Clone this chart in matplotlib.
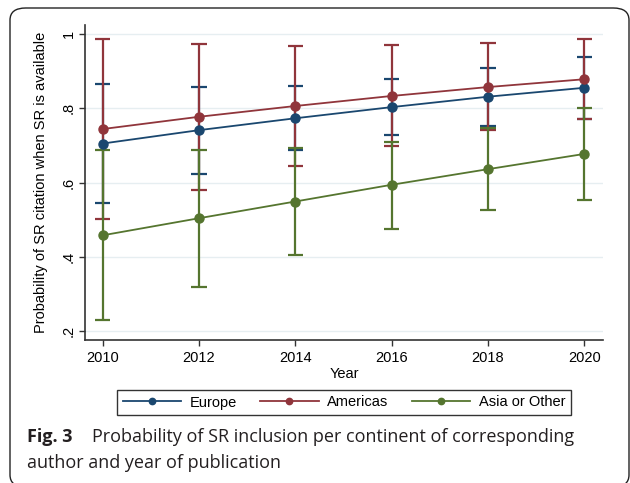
import matplotlib
matplotlib.use('Agg')
from matplotlib import pyplot as plt
from matplotlib.patches import FancyBboxPatch

years = [2010, 2012, 2014, 2016, 2018, 2020]

europe = [0.705, 0.741, 0.773, 0.803, 0.831, 0.855]
europe_lo = [0.545, 0.623, 0.688, 0.729, 0.753, 0.770]
europe_hi = [0.865, 0.857, 0.861, 0.879, 0.908, 0.939]

americas = [0.744, 0.777, 0.806, 0.833, 0.857, 0.878]
americas_lo = [0.502, 0.580, 0.645, 0.699, 0.741, 0.771]
americas_hi = [0.985, 0.974, 0.968, 0.969, 0.975, 0.985]

asia = [0.458, 0.504, 0.549, 0.594, 0.636, 0.677]
asia_lo = [0.231, 0.319, 0.405, 0.475, 0.525, 0.553]
asia_hi = [0.687, 0.687, 0.693, 0.709, 0.746, 0.800]

yticks = [0.2, 0.4, 0.6, 0.8, 1.0]
ytick_labels = ['.2', '.4', '.6', '.8', '1']

series = [
    ('Europe', europe, europe_lo, europe_hi, '#1a476f'),
    ('Americas', americas, americas_lo, americas_hi, '#90353b'),
    ('Asia or Other', asia, asia_lo, asia_hi, '#55752f'),
]

plt.rcParams['font.family'] = ['Liberation Sans', 'DejaVu Sans']

fig = plt.figure(figsize=(6.3, 4.83), dpi=100)

# rounded frame around the figure
frame = FancyBboxPatch((10 / 630, 1 - 487 / 483), 619 / 630, 479 / 483,
                       boxstyle='round,pad=0,rounding_size=0.025',
                       transform=fig.transFigure, fill=False,
                       edgecolor='#222222', linewidth=1.0, clip_on=False)
fig.patches.append(frame)

ax = fig.add_axes([85.3 / 630, 1 - 340.3 / 483, (603 - 85.3) / 630, (340.3 - 25) / 483])

# confidence intervals first
for name, mid, lo, hi, col in series:
    ax.vlines(years, lo, hi, color=col, linewidth=1.6, zorder=2)
    ax.hlines(lo, [y - 0.16 for y in years], [y + 0.16 for y in years], color=col, linewidth=1.6, zorder=2)
    ax.hlines(hi, [y - 0.16 for y in years], [y + 0.16 for y in years], color=col, linewidth=1.6, zorder=2)

lines = []
for name, mid, lo, hi, col in series:
    ln, = ax.plot(years, mid, color=col, linewidth=1.3, marker='o', markersize=6.5, label=name, zorder=3)
    lines.append(ln)

ax.set_xlim(2009.64, 2020.39)
ax.set_ylim(0.1755, 1.024)
ax.set_xticks(years)
ax.set_yticks(yticks)
ax.set_yticklabels(ytick_labels, rotation=90, va='center')
ax.grid(axis='y', color='#e6eef1', linewidth=1.0, zorder=0)
ax.set_axisbelow(True)

for s in ['top', 'right']:
    ax.spines[s].set_visible(False)
for s in ['left', 'bottom']:
    ax.spines[s].set_color('#333333')
    ax.spines[s].set_linewidth(1.2)
ax.tick_params(colors='#333333', labelcolor='black', labelsize=10.5, length=4, width=1.0)
ax.tick_params(axis='y', pad=3)

ax.set_xlabel('Year', fontsize=10.5, labelpad=2)
ax.set_ylabel('Probability of SR citation when SR is available', fontsize=10.5, labelpad=10)

leg = fig.legend(handles=lines, loc='center', bbox_to_anchor=(344 / 630, 1 - 402.5 / 483),
                 ncol=3, numpoints=1, fontsize=10.5, frameon=True, fancybox=False,
                 edgecolor='black', handlelength=4.0, handletextpad=0.6,
                 columnspacing=1.6, borderpad=0.35, borderaxespad=0, markerscale=0.7)
leg.get_frame().set_linewidth(1.0)

fig.text(27 / 630, 1 - 437 / 483, 'Fig. 3', fontsize=13, fontweight='bold',
         family='Open Sans', va='center', ha='left', color='#231f20')
fig.text(92 / 630, 1 - 437 / 483, 'Probability of SR inclusion per continent of corresponding',
         fontsize=13, family='Open Sans', va='center', ha='left', color='#231f20')
fig.text(27 / 630, 1 - 463 / 483, 'author and year of publication',
         fontsize=13, family='Open Sans', va='center', ha='left', color='#231f20')

fig.savefig('out.png', dpi=100)
plt.close(fig)
